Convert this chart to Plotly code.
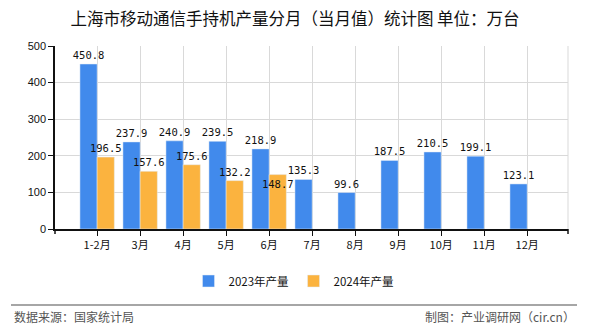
import plotly.graph_objects as go

months = ["1-2月", "3月", "4月", "5月", "6月", "7月", "8月", "9月", "10月", "11月", "12月"]
prod_2023 = [450.8, 237.9, 240.9, 239.5, 218.9, 135.3, 99.6, 187.5, 210.5, 199.1, 123.1]
prod_2024 = [196.5, 157.6, 175.6, 132.2, 148.7, None, None, None, None, None, None]
series_names = ["2023年产量", "2024年产量"]
title_text = "上海市移动通信手持机产量分月（当月值）统计图 单位：万台"
source_text = "数据来源：国家统计局"
credit_text = "制图：产业调研网（cir.cn）"

W, H = 590, 330
L, R, T, B = 55, 22, 46, 101
pw, ph = W - L - R, H - T - B

def px_x(x):
    return (x - L) / pw

def px_y(y):
    return (H - B - y) / ph

idx = list(range(len(months)))
label_font = dict(family="DejaVu Sans Mono, Liberation Mono, monospace", size=10.5, color="#111")

# 2024 June label sits inside the bar top in the reference (collision avoidance)
pos_2024 = ["inside" if i == 4 else "outside" for i in idx]

fig = go.Figure()
fig.add_trace(go.Bar(
    x=idx, y=prod_2023, name=series_names[0], marker_color="#418AEC",
    text=[f"{v:.1f}" for v in prod_2023], textposition="outside", constraintext="none",
    textangle=0, textfont=label_font, cliponaxis=False,
))
fig.add_trace(go.Bar(
    x=idx, y=prod_2024, name=series_names[1], marker_color="#FBB33F",
    text=[f"{v:.1f}" if v is not None else "" for v in prod_2024], textposition=pos_2024,
    insidetextanchor="end", insidetextfont=label_font, outsidetextfont=label_font,
    constraintext="none", textangle=0, textfont=label_font, cliponaxis=False,
))

fig.update_layout(
    width=W, height=H,
    margin=dict(l=L, r=R, t=T, b=B),
    paper_bgcolor="white", plot_bgcolor="white",
    barmode="group", bargap=0.2, bargroupgap=0,
    font=dict(family="Noto Sans CJK SC, sans-serif", size=11, color="#111"),
    title=dict(text=title_text, x=0.5, xanchor="center", y=1 - 19 / H, yanchor="middle",
               font=dict(size=16.5, color="#111", family="Noto Sans CJK SC, sans-serif")),
    showlegend=True,
    legend=dict(orientation="h", x=px_x(294), xanchor="center", y=px_y(281), yanchor="middle",
                font=dict(size=11.5, color="#111"), itemwidth=30, tracegroupgap=0),
)

fig.update_xaxes(
    tickmode="array", tickvals=idx, ticktext=months,
    range=[-0.98, 10.95], showgrid=True, gridcolor="#d9d9d9", gridwidth=1,
    showline=True, linecolor="#111", linewidth=1.5,
    ticks="outside", ticklen=5, tickcolor="#111",
    tickfont=dict(size=11, color="#111"), zeroline=False,
)
fig.update_yaxes(
    range=[0, 500], dtick=100, showgrid=True, gridcolor="#d9d9d9", gridwidth=1,
    showline=True, linecolor="#111", linewidth=1.5,
    ticks="outside", ticklen=5, tickcolor="#111",
    tickfont=dict(size=11, color="#111", family="Liberation Sans, Arial, sans-serif"),
    zeroline=False,
)

# right edge gridline and edge ticks
fig.add_shape(type="line", xref="paper", yref="paper", x0=1, x1=1, y0=0, y1=1,
              line=dict(color="#d9d9d9", width=1))
for xp in (0, 1):
    fig.add_shape(type="line", xref="paper", yref="paper", x0=xp, x1=xp, y0=0, y1=-5 / ph,
                  line=dict(color="#111", width=1.5))

# footer separator
fig.add_shape(type="line", xref="paper", yref="paper",
              x0=px_x(11), x1=px_x(577), y0=px_y(305), y1=px_y(305),
              line=dict(color="#888", width=1.5))
fig.add_annotation(text=source_text, xref="paper", yref="paper", x=px_x(12), y=px_y(316),
                   xanchor="left", yanchor="middle", showarrow=False,
                   font=dict(size=12, color="#555"))
fig.add_annotation(text=credit_text, xref="paper", yref="paper", x=px_x(577), y=px_y(316),
                   xanchor="right", yanchor="middle", showarrow=False,
                   font=dict(size=12, color="#555"))

fig.write_html("out.html")
